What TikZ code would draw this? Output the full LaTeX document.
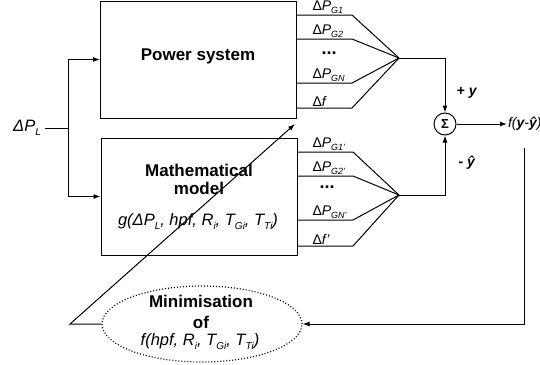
\documentclass[tikz,border=0pt]{standalone}
\usepackage{fontspec}
\setmainfont{Liberation Sans}
\usetikzlibrary{arrows.meta,shapes.geometric}
\newcommand{\sbs}[1]{\raisebox{-0.45ex}{\fontsize{9}{10}\selectfont\itshape #1}}
\newcommand{\sbb}[1]{\raisebox{-0.45ex}{\fontsize{10}{11}\selectfont\itshape #1}}
\newcommand{\yv}{\textbf{\textit{y}}}
\newcommand{\yh}{\textbf{\textit{\^y}}}

\begin{document}
\begin{tikzpicture}[x=1pt,y=-1pt,line width=1pt,
    arr/.style={-{Latex[length=7pt,width=5pt]}},
    blk/.style={draw,minimum width=196pt,minimum height=117pt,inner sep=0pt},
    big/.style={font=\fontsize{17}{18}\selectfont\bfseries,align=center},
    txt/.style={font=\fontsize{16.5}{18}\selectfont\itshape},
    lbl/.style={font=\fontsize{14}{16}\selectfont\itshape,anchor=south west,inner sep=1pt},
    dts/.style={font=\fontsize{18}{20}\selectfont\bfseries}]

\useasboundingbox (0,0) rectangle (540,364);

% ===== Blocks =====
\node[blk] (ps) at (198.5,59.5) {};
\node[big] (pst) at (198,56) {Power system};

\node[blk] (mm) at (199,196.5) {};
\node[big] (mmt) at (199,179) {Mathematical\\model};
\node[txt] (mmg) at (198,222) {g(\textit{Δ}P\sbb{L}, hpf, R\sbb{i}, T\sbb{Gi}, T\sbb{Ti})};

% ===== Input =====
\node[txt] (dpl) at (27,128) {\textit{Δ}P\sbb{L}};
\coordinate (split) at (68,128);
\draw (dpl) -- (split);
\draw[arr] (split) |- (ps.west);
\draw[arr] (split) |- (mm.west);

% ===== Outputs of power system =====
\coordinate (jp) at (399,58);
\foreach \yy/\lab in {15/{\textup{Δ}P\sbs{G1}},39/{\textup{Δ}P\sbs{G2}},
                      83/{\textup{Δ}P\sbs{GN}},108/{\textup{Δ}f}} {
    \draw (ps.east |- 0,\yy) -- (352,\yy) -- (jp);
    \node[lbl] (po\yy) at (311,\yy) {\lab};
}
\node[dts] (pdots) at (329,53) {...};

% ===== Outputs of model =====
\coordinate (jm) at (399,195);
\foreach \yy/\lab in {152/{\textup{Δ}P\sbs{G1'}},176/{\textup{Δ}P\sbs{G2'}},
                      220/{\textup{Δ}P\sbs{GN'}},246/{\textup{Δ}f'}} {
    \draw (mm.east |- 0,\yy) -- (353,\yy) -- (jm);
    \node[lbl] (mo\yy) at (311,\yy) {\lab};
}
\node[dts] (mdots) at (327,187) {...};

% ===== Sum =====
\node[draw,circle,minimum size=22pt,inner sep=0pt,font=\fontsize{13}{15}\selectfont\bfseries] (sum) at (445,124) {Σ};
\draw[arr] (jp) -| (sum.north);
\draw[arr] (jm) -| (sum.south);
\node[font=\fontsize{14}{16}\selectfont\bfseries] (py) at (467,93) {+ \yv};
\node[font=\fontsize{14}{16}\selectfont\bfseries] (my) at (467,163) {- \yh};

\node[font=\fontsize{14}{16}\selectfont\itshape,anchor=west,inner sep=0.5pt] (out) at (507,124) {f(\yv-\yh)};
\draw[arr] (sum.east) -- (out.west);

% ===== Minimisation =====
\node[ellipse,draw,line width=1.2pt,dash pattern=on 1pt off 2pt,minimum width=200pt,minimum height=76pt] (min) at (202,324) {};
\node[big,font=\fontsize{17}{21}\selectfont\bfseries] (mint) at (201,312) {Minimisation\\of};
\node[txt] (minf) at (200,342) {f(hpf, R\sbb{i}, T\sbb{Gi}, T\sbb{Ti})};
\draw[arr,shorten <=16pt] (out.south) |- (min.east);

\coordinate (kn) at (70,324);
\coordinate (tip) at (295,124);
\draw[arr] (min.west) -- (kn) -- (tip);

\end{tikzpicture}
\end{document}
